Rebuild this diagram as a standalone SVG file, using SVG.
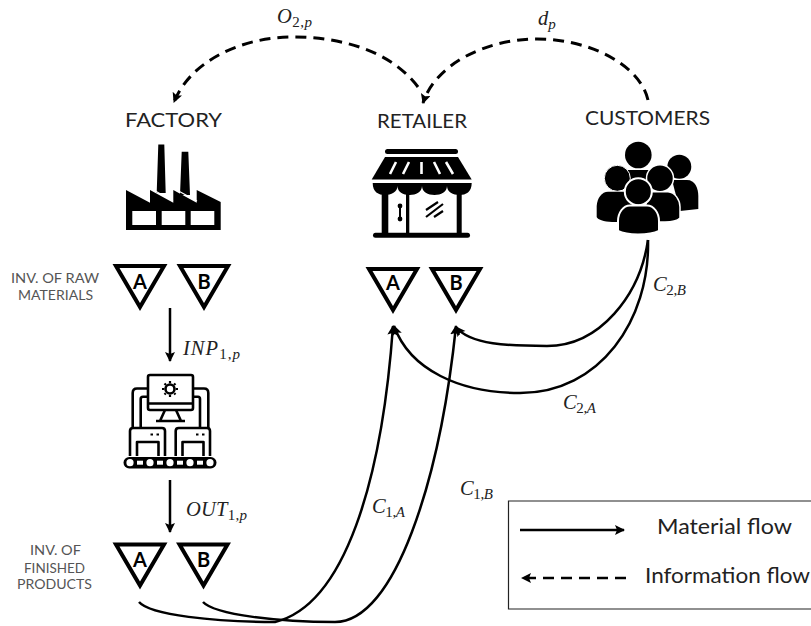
<svg xmlns="http://www.w3.org/2000/svg" width="811" height="626" viewBox="0 0 811 626">
<style>
.t{font-family:"Lato","Open Sans",sans-serif;fill:#222}
.h{font-size:20px}
.s{font-size:14px;fill:#555;text-anchor:middle}
.l{font-size:21px;fill:#222}
.m{font-family:"Liberation Serif","DejaVu Serif",serif;font-style:italic;font-size:20.5px;fill:#222}
.u{font-size:15px;font-style:normal}
.i{font-size:15px;font-style:italic}
.tri{fill:#fff;stroke:#000;stroke-width:4;stroke-linejoin:miter}
.tl{font-family:"Lato","Open Sans",sans-serif;font-weight:700;font-size:20px;fill:#000;text-anchor:middle}
.c{fill:none;stroke:#000;stroke-width:2.5}
.d{fill:none;stroke:#000;stroke-width:3;stroke-dasharray:11 7}
.mp{fill:none;stroke:#000;stroke-width:2.6;stroke-linejoin:round}
</style>
<defs>
<marker id="ah" markerUnits="userSpaceOnUse" markerWidth="12" markerHeight="12" refX="9" refY="5" orient="auto"><path d="M0 0L10 5L0 10L2 5Z" fill="#000"/></marker>
<path id="tp" d="M-24 0H24L0 41Z"/>
</defs>
<rect width="811" height="626" fill="#fff"/>

<g id="connectors">
<path class="d" d="M418 87C390 50 340 37 293 37C240 37 190 62 174 102" marker-end="url(#ah)"/>
<path class="d" d="M648 100C640 65 590 39 537 39C485 39 435 65 423 103" marker-end="url(#ah)"/>
<path class="c" d="M170 308V361" marker-end="url(#ah)"/>
<path class="c" d="M170 480V532" marker-end="url(#ah)"/>
<path class="c" d="M139 602C150 615 215 622 275 622C345 605 382 480 393 326" marker-end="url(#ah)"/>
<path class="c" d="M203 602C215 615 280 622 335 622C395 622 440 480 456 326" marker-end="url(#ah)"/>
<path class="c" d="M648 240C650 320 600 393 520 393C460 393 410 370 394 326" marker-end="url(#ah)"/>
<path class="c" d="M648 240C640 295 600 346 547 346C510 346 470 345 456 327" marker-end="url(#ah)"/>
</g>

<g id="labels">
<text class="m" x="277" y="23" textLength="35">O<tspan class="u" dy="4">2,</tspan><tspan class="i">p</tspan></text>
<text class="m" x="538" y="25">d<tspan class="i" dy="4">p</tspan></text>
<text class="m" x="183" y="355" textLength="57">INP<tspan class="u" dy="4">1,</tspan><tspan class="i">p</tspan></text>
<text class="m" x="186" y="516" textLength="61">OUT<tspan class="u" dy="4">1,</tspan><tspan class="i">p</tspan></text>
<text class="m" x="372" y="513" textLength="33">C<tspan class="u" dy="4">1,</tspan><tspan class="i">A</tspan></text>
<text class="m" x="460" y="495" textLength="33">C<tspan class="u" dy="4">1,</tspan><tspan class="i">B</tspan></text>
<text class="m" x="563" y="409" textLength="33">C<tspan class="u" dy="4">2,</tspan><tspan class="i">A</tspan></text>
<text class="m" x="653" y="291" textLength="33">C<tspan class="u" dy="4">2,</tspan><tspan class="i">B</tspan></text>
</g>

<g id="factory">
<text class="t h" x="125" y="127" textLength="97" lengthAdjust="spacingAndGlyphs">FACTORY</text>
<path d="M158.3 144.5H164.3L165.7 193H156.7ZM181.7 151.7H188.3L190 195H180Z" fill="#000"/>
<path d="M126 190L150 202.7V190L173.3 202.7V190L196.7 202.7V190L220.7 202V230H126Z" fill="#000"/>
<path d="M150 188L173 201M173 188L197 201" stroke="#fff" stroke-width="1.2" fill="none"/>
<path d="M132.3 211H156V225H132.3ZM161.7 211H185.3V225H161.7ZM190.7 211H214.3V225H190.7Z" fill="#fff"/>
</g>

<g id="retailer">
<text class="t h" x="377" y="128" textLength="90" lengthAdjust="spacingAndGlyphs">RETAILER</text>
<rect x="385" y="149" width="73" height="5" rx="2.5" fill="#000"/>
<path d="M385 157H458L471.7 179.5H371.7Z" fill="#000"/>
<path d="M390 174L396 162M403 174L409 162M421.5 174V162M434 162L440 174M446 162L453 174" stroke="#fff" stroke-width="2.6" fill="none"/>
<path d="M372.7 183H471.7C471.7 192 466 195 459.5 195C453 195 447 192 447 186C447 192 441 195 434.5 195C428 195 422 192 422 186C422 192 416 195 409.7 195C403 195 397.5 192 397.5 186C397.5 192 391 195 385 195C378.5 195 372.7 192 372.7 183Z" fill="#000"/>
<path d="M381.7 194H388.3V234H381.7ZM406 194H409.3V234H406ZM456.7 194H461.7V234H456.7Z" fill="#000"/>
<rect x="373" y="232.7" width="97" height="5" rx="2.5" fill="#000"/>
<path d="M400 206V219" stroke="#000" stroke-width="2"/>
<circle cx="400" cy="206" r="2.4"/><circle cx="400" cy="219" r="2.4"/>
<path d="M426 210L438 202M426 217L443 204M434 217L443 211" stroke="#000" stroke-width="2.2" fill="none"/>
</g>

<g id="customers">
<text class="t h" x="585" y="125" textLength="125" lengthAdjust="spacingAndGlyphs">CUSTOMERS</text>
<circle cx="638.3" cy="155" r="13.3"/>
<circle cx="679.3" cy="166.7" r="12"/>
<path d="M672 180H687C695 180 698.3 188 698.3 196V209L680 211Z"/>
<rect x="628" y="170" width="22" height="15"/>
<circle cx="617.3" cy="178.3" r="13" stroke="#fff" stroke-width="1"/>
<circle cx="660" cy="178.3" r="13.5" stroke="#fff" stroke-width="1.5"/>
<path d="M608 191.7H628L640 222L612 222C604 222 597 219 596.7 217V206C597 198 602 191.7 608 191.7Z"/>
<path d="M650 191.7H668C675 192 680 200 680 207V218C678 220 672 222 665 222H640Z" stroke="#fff" stroke-width="1.5"/>
<circle cx="638.3" cy="191.7" r="13.5" stroke="#fff" stroke-width="2"/>
<path d="M630 205.5H647C654 205.5 659 213 659 221V231C655 233 646 234.5 638 234.5C630 234.5 622 233 618 231V221C618 213 623 205.5 630 205.5Z" stroke="#fff" stroke-width="2"/>
</g>

<g id="machine">
<rect class="mp" x="148" y="375" width="45" height="35" rx="2"/>
<path class="mp" d="M148 403.5H193M165 410L160 421H181L176 410M156 421H185"/>
<path class="mp" d="M148 388.5H137Q132.7 388.5 132.7 393V428M148 396.7H143Q140.7 396.7 140.7 399V428M193 388.5H204Q208.3 388.5 208.3 393V428M193 396.7H198Q200 396.7 200 399V428"/>
<circle cx="170" cy="389" r="4.5" fill="none" stroke="#000" stroke-width="2.6"/>
<path d="M170 381V397M162 389H178M164.5 383.5L175.5 394.5M175.5 383.5L164.5 394.5" stroke="#000" stroke-width="2.2" stroke-dasharray="2.2 11.6 2.2 0"/>
<path class="mp" d="M130 456V431Q130 428 133 428H162Q165 428 165 431V456M175.7 456V431Q175.7 428 178.7 428H207Q210 428 210 431V456"/>
<path class="mp" d="M137 456V442H158.5V456M182.5 456V442H203.5V456"/>
<path d="M150.5 434.5h2.5M156.5 434.5h2.5M196 434.5h2.5M202 434.5h2.5" stroke="#000" stroke-width="2.2"/>
<rect x="123.5" y="457" width="93" height="11.5" rx="5.7" fill="#000"/>
<g fill="#fff"><circle cx="130" cy="462.7" r="3.6"/><circle cx="150" cy="462.7" r="3.6"/><circle cx="170" cy="462.7" r="3.6"/><circle cx="190" cy="462.7" r="3.6"/><circle cx="210" cy="462.7" r="3.6"/><rect x="137" y="460.7" width="6" height="4"/><rect x="157" y="460.7" width="6" height="4"/><rect x="177" y="460.7" width="6" height="4"/><rect x="197" y="460.7" width="6" height="4"/></g>
</g>

<g id="inv-raw">
<text class="t s" x="55" y="283" textLength="88" lengthAdjust="spacingAndGlyphs">INV. OF RAW</text>
<text class="t s" x="55.5" y="300" textLength="75" lengthAdjust="spacingAndGlyphs">MATERIALS</text>
<use href="#tp" class="tri" x="140" y="266"/><text class="tl" x="140" y="289">A</text>
<use href="#tp" class="tri" x="204" y="266"/><text class="tl" x="204" y="289">B</text>
</g>
<g id="inv-retailer">
<use href="#tp" class="tri" x="393" y="269"/><text class="tl" x="393" y="290">A</text>
<use href="#tp" class="tri" x="456" y="269"/><text class="tl" x="456" y="290">B</text>
</g>
<g id="inv-finished">
<text class="t s" x="55.5" y="555" textLength="51" lengthAdjust="spacingAndGlyphs">INV. OF</text>
<text class="t s" x="54.5" y="572.7" textLength="61" lengthAdjust="spacingAndGlyphs">FINISHED</text>
<text class="t s" x="54.5" y="589" textLength="75" lengthAdjust="spacingAndGlyphs">PRODUCTS</text>
<use href="#tp" class="tri" x="140" y="544.5"/><text class="tl" x="140" y="567">A</text>
<use href="#tp" class="tri" x="203.5" y="544.5"/><text class="tl" x="203.5" y="567">B</text>
</g>

<g id="legend">
<path d="M811 501H508.5V609H811" fill="none" stroke="#222" stroke-width="1.2"/>
<path class="c" d="M520 530H624" marker-end="url(#ah)"/>
<text class="t l" x="657" y="534" textLength="135" lengthAdjust="spacingAndGlyphs">Material flow</text>
<path class="c" d="M626 578H522" stroke-dasharray="11 7" marker-end="url(#ah)"/>
<text class="t l" x="645" y="583" textLength="165" lengthAdjust="spacingAndGlyphs">Information flow</text>
</g>
</svg>
